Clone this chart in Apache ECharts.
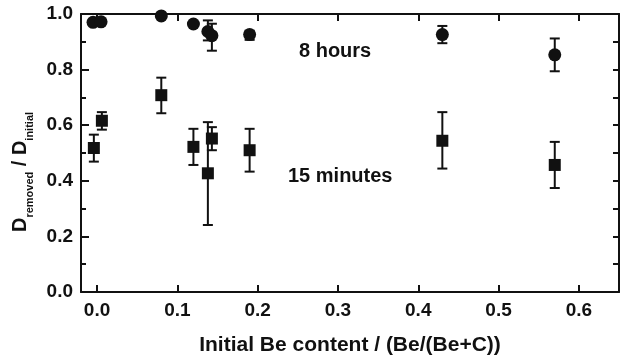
<!DOCTYPE html>
<html>
<head>
<meta charset="utf-8">
<script src="https://cdn.jsdelivr.net/npm/echarts@6/dist/echarts.min.js"></script>
<style>
  html, body { margin: 0; padding: 0; background: #fff; }
  #chart { width: 623px; height: 361px; }
</style>
</head>
<body>
<div id="chart"></div>
<script>
// 8 hours (circles): x, y, low, high
const hoursX = [-0.005, 0.005, 0.08, 0.12, 0.138, 0.143, 0.19, 0.43, 0.57];
const hoursY = [0.97, 0.972, 0.993, 0.964, 0.937, 0.922, 0.926, 0.926, 0.853];
const hoursLow = [0.962, 0.964, 0.987, 0.957, 0.905, 0.868, 0.907, 0.895, 0.794];
const hoursHigh = [0.978, 0.98, 0.999, 0.971, 0.977, 0.965, 0.94, 0.957, 0.912];

// 15 minutes (squares)
const minX = [-0.004, 0.006, 0.08, 0.12, 0.138, 0.143, 0.19, 0.43, 0.57];
const minY = [0.518, 0.616, 0.708, 0.522, 0.427, 0.552, 0.51, 0.544, 0.457];
const minLow = [0.469, 0.584, 0.643, 0.457, 0.241, 0.51, 0.433, 0.444, 0.374];
const minHigh = [0.566, 0.647, 0.771, 0.587, 0.611, 0.593, 0.587, 0.647, 0.54];

const xTicks = [0, 0.1, 0.2, 0.3, 0.4, 0.5, 0.6];

const FONT = 'Liberation Sans, Arial, sans-serif';
const INK = '#111';

const zip = (a, b) => a.map((v, i) => [v, b[i]]);
const zip3 = (a, b, c) => a.map((v, i) => [v, b[i], c[i]]);

function errorBar(params, api) {
  const x = api.value(0);
  const lo = api.coord([x, api.value(1)]);
  const hi = api.coord([x, api.value(2)]);
  const cap = 5;
  const style = { stroke: INK, lineWidth: 2 };
  return {
    type: 'group',
    children: [
      { type: 'line', shape: { x1: lo[0], y1: lo[1], x2: hi[0], y2: hi[1] }, style },
      { type: 'line', shape: { x1: lo[0] - cap, y1: lo[1], x2: lo[0] + cap, y2: lo[1] }, style },
      { type: 'line', shape: { x1: hi[0] - cap, y1: hi[1], x2: hi[0] + cap, y2: hi[1] }, style }
    ]
  };
}

const chart = echarts.init(document.getElementById('chart'));

const xBase = {
  type: 'value',
  min: -0.02,
  max: 0.65,
  splitLine: { show: false },
  axisLine: { show: true, onZero: false, lineStyle: { color: INK, width: 2 } }
};

const option = {
  animation: false,
  backgroundColor: '#fff',
  grid: { left: 81, top: 14, right: 4, bottom: 66 },
  xAxis: [
    Object.assign({}, xBase, {
      position: 'bottom',
      axisTick: { inside: true, length: 7, customValues: xTicks, lineStyle: { color: INK, width: 2 } },
      axisLabel: {
        customValues: xTicks,
        formatter: v => v.toFixed(1),
        margin: 9,
        color: INK, fontFamily: FONT, fontWeight: 'bold', fontSize: 19
      },
      name: 'Initial Be content / (Be/(Be+C))',
      nameLocation: 'middle',
      nameGap: 43,
      nameTextStyle: { color: INK, fontFamily: FONT, fontWeight: 'bold', fontSize: 21 }
    }),
    Object.assign({}, xBase, {
      position: 'top',
      axisTick: { inside: true, length: 7, customValues: xTicks, lineStyle: { color: INK, width: 2 } },
      axisLabel: { show: false }
    })
  ],
  yAxis: [
    {
      type: 'value',
      min: 0,
      max: 1.0,
      interval: 0.2,
      position: 'left',
      splitLine: { show: false },
      axisLine: { show: true, onZero: false, lineStyle: { color: INK, width: 2 } },
      axisTick: { inside: true, length: 8, lineStyle: { color: INK, width: 2 } },
      minorTick: { show: true, splitNumber: 2, length: 5, lineStyle: { color: INK, width: 2 } },
      axisLabel: {
        formatter: v => v.toFixed(1),
        margin: 8,
        color: INK, fontFamily: FONT, fontWeight: 'bold', fontSize: 19
      }
    },
    {
      type: 'value',
      min: 0,
      max: 1.0,
      interval: 0.1,
      position: 'right',
      splitLine: { show: false },
      axisLine: { show: true, onZero: false, lineStyle: { color: INK, width: 2 } },
      axisTick: { inside: true, length: 6, lineStyle: { color: INK, width: 2 } },
      axisLabel: { show: false }
    }
  ],
  series: [
    {
      type: 'custom',
      renderItem: errorBar,
      data: zip3(hoursX, hoursLow, hoursHigh),
      z: 1
    },
    {
      type: 'custom',
      renderItem: errorBar,
      data: zip3(minX, minLow, minHigh),
      z: 1
    },
    {
      type: 'scatter',
      symbol: 'circle',
      symbolSize: 13,
      itemStyle: { color: INK, opacity: 1 },
      data: zip(hoursX, hoursY),
      z: 3
    },
    {
      type: 'scatter',
      symbol: 'rect',
      symbolSize: 12,
      itemStyle: { color: INK, opacity: 1 },
      data: zip(minX, minY),
      z: 3
    }
  ],
  graphic: [
    {
      type: 'text', left: 299, top: 41,
      style: { text: '8 hours', fill: INK, font: 'bold 20px ' + FONT }
    },
    {
      type: 'text', left: 288, top: 166,
      style: { text: '15 minutes', fill: INK, font: 'bold 20px ' + FONT }
    },
    {
      type: 'text',
      x: 18, y: 172,
      rotation: Math.PI / 2,
      style: {
        text: '{d|D}{s|removed}{d| / D}{s|initial}',
        align: 'center',
        verticalAlign: 'middle',
        fill: INK,
        rich: {
          d: { fontFamily: FONT, fontWeight: 'bold', fontSize: 20, lineHeight: 24, verticalAlign: 'bottom', fill: INK },
          s: { fontFamily: FONT, fontWeight: 'bold', fontSize: 11, lineHeight: 14, padding: [0, 0, -5, 0], verticalAlign: 'bottom', fill: INK }
        }
      }
    }
  ]
};

chart.setOption(option);
</script>
</body>
</html>
